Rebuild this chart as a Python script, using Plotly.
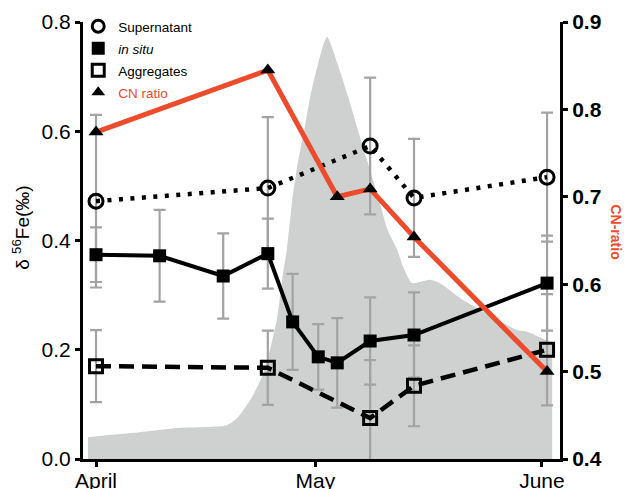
import plotly.graph_objects as go

# x values: days since 1 April
sup_day = [0, 23.5, 37.5, 43.5, 61.7]
sup_val = [0.472, 0.496, 0.573, 0.478, 0.516]
sup_err = [0.158, 0.130, 0.125, 0.108, 0.118]

insitu_day = [0, 8.7, 17.4, 23.5, 26.9, 30.4, 33.0, 37.5, 43.5, 61.7]
insitu_val = [0.374, 0.372, 0.335, 0.376, 0.251, 0.187, 0.176, 0.216, 0.227, 0.322]
insitu_err = [0.050, 0.084, 0.078, 0.064, 0.088, 0.060, 0.082, 0.080, 0.078, 0.087]

agg_day = [0, 23.5, 37.5, 43.5, 61.7]
agg_val = [0.170, 0.167, 0.075, 0.134, 0.200]
agg_err = [0.066, 0.068, 0.106, 0.074, 0.102]

cn_day = [0, 23.5, 33.0, 37.5, 43.5, 61.7]
cn_val = [0.774, 0.845, 0.700, 0.709, 0.654, 0.500]

# background bloom envelope (in left-axis units)
bg_day = [-1.1, 3.7, 6.0, 11.5, 17.9, 19.3, 21.1, 22.7, 23.8, 24.8, 25.6, 26.1,
          26.9, 27.6, 28.5, 29.3, 30.4, 31.6, 33.0, 34.5, 35.8, 37.2, 38.6, 39.9,
          41.2, 42.0, 43.2, 44.3, 45.7, 47.0, 50.2, 54.3, 57.6, 59.0, 60.7, 62.4]
bg_val = [0.040, 0.046, 0.049, 0.057, 0.062, 0.075, 0.108, 0.150, 0.200, 0.260, 0.341, 0.383,
          0.480, 0.542, 0.603, 0.663, 0.725, 0.773, 0.725, 0.663, 0.603, 0.542, 0.480, 0.419,
          0.383, 0.352, 0.322, 0.324, 0.328, 0.322, 0.291, 0.260, 0.236, 0.233, 0.223, 0.212]

month_ticks = [0, 30, 61]
month_labels = ["April", "May", "June"]

RED = "#EE4A2C"
ERR = "#A3A3A3"
FONT = "Liberation Sans, Arial, sans-serif"

fig = go.Figure()

fig.add_trace(go.Scatter(x=bg_day, y=bg_val, mode="lines", fill="tozeroy",
                         line=dict(width=0, shape="spline", smoothing=0.6),
                         fillcolor="#CFD0D0", showlegend=False, hoverinfo="skip"))

def err_trace(xs, ys, es):
    return go.Scatter(x=xs, y=ys, mode="markers",
                      marker=dict(size=1, color="rgba(0,0,0,0)"),
                      error_y=dict(type="data", array=es, visible=True,
                                   color=ERR, thickness=2.2, width=6),
                      showlegend=False, hoverinfo="skip")

fig.add_trace(err_trace(sup_day, sup_val, sup_err))
fig.add_trace(err_trace(insitu_day, insitu_val, insitu_err))
fig.add_trace(err_trace(agg_day, agg_val, agg_err))

fig.add_trace(go.Scatter(x=insitu_day, y=insitu_val, mode="lines+markers",
                         line=dict(color="black", width=4),
                         marker=dict(symbol="square", size=13, color="black"),
                         showlegend=False))
fig.add_trace(go.Scatter(x=agg_day, y=agg_val, mode="lines+markers",
                         line=dict(color="black", width=4.5, dash="15px,8px"),
                         marker=dict(symbol="square-open", size=13, color="black",
                                     line=dict(width=3)),
                         showlegend=False))
fig.add_trace(go.Scatter(x=sup_day, y=sup_val, mode="lines+markers",
                         line=dict(color="black", width=4.5, dash="4px,7.5px"),
                         marker=dict(symbol="circle-open", size=14, color="black",
                                     line=dict(width=3)),
                         showlegend=False))
fig.add_trace(go.Scatter(x=cn_day, y=cn_val, mode="lines+markers", yaxis="y2",
                         line=dict(color=RED, width=5),
                         marker=dict(symbol="triangle-up", size=13, color="black"),
                         showlegend=False))

# legend entries (markers only)
LT = "<span style='font-size:13.5px'>%s</span>"
fig.add_trace(go.Scatter(x=[None], y=[None], mode="markers", name=LT % "Supernatant",
                         marker=dict(symbol="circle-open", size=12, color="black",
                                     line=dict(width=3))))
fig.add_trace(go.Scatter(x=[None], y=[None], mode="markers", name=LT % "<i>in situ</i>",
                         marker=dict(symbol="square", size=13, color="black")))
fig.add_trace(go.Scatter(x=[None], y=[None], mode="markers", name=LT % "Aggregates",
                         marker=dict(symbol="square-open", size=12, color="black",
                                     line=dict(width=3))))
fig.add_trace(go.Scatter(x=[None], y=[None], mode="markers",
                         name="<span style='font-size:13.5px;color:%s'>CN ratio</span>" % RED,
                         marker=dict(symbol="triangle-up", size=12, color="black")))

axis_common = dict(showline=True, linecolor="black", linewidth=3, ticks="outside",
                   ticklen=5, tickwidth=3, tickcolor="black", showgrid=False,
                   zeroline=False, automargin=False)

fig.update_layout(
    width=624, height=481,
    margin=dict(l=75, r=72, t=14, b=30, autoexpand=False),
    paper_bgcolor="white", plot_bgcolor="white",
    font=dict(family=FONT, color="black"),
    xaxis=dict(range=[-1.78, 63.47], tickvals=month_ticks, ticktext=month_labels,
               tickfont=dict(size=21), ticklabelstandoff=-4, **axis_common),
    yaxis=dict(range=[0, 0.8], tickvals=[0, 0.2, 0.4, 0.6, 0.8], tickformat=".1f",
               tickfont=dict(size=21), **axis_common),
    yaxis2=dict(range=[0.4, 0.9], tickvals=[0.4, 0.5, 0.6, 0.7, 0.8, 0.9],
                tickformat=".1f", overlaying="y", side="right",
                tickfont=dict(size=21, weight="bold"), **axis_common),
    legend=dict(x=-0.01, y=1.027, xanchor="left", yanchor="top",
                bgcolor="rgba(0,0,0,0)", font=dict(size=14.6, color="black"),
                itemsizing="trace", tracegroupgap=0),
    showlegend=True,
    annotations=[
        dict(text="δ <sup>56</sup>Fe(‰)", xref="paper", yref="paper",
             x=-0.13, y=0.529, xanchor="center", yanchor="middle", textangle=-90,
             showarrow=False, font=dict(size=19, color="black")),
        dict(text="<b>CN-ratio</b>", xref="paper", yref="paper",
             x=1.118, y=0.52, xanchor="center", yanchor="middle", textangle=90,
             showarrow=False, font=dict(size=14, color=RED)),
    ],
)

fig.write_html("out.html")
